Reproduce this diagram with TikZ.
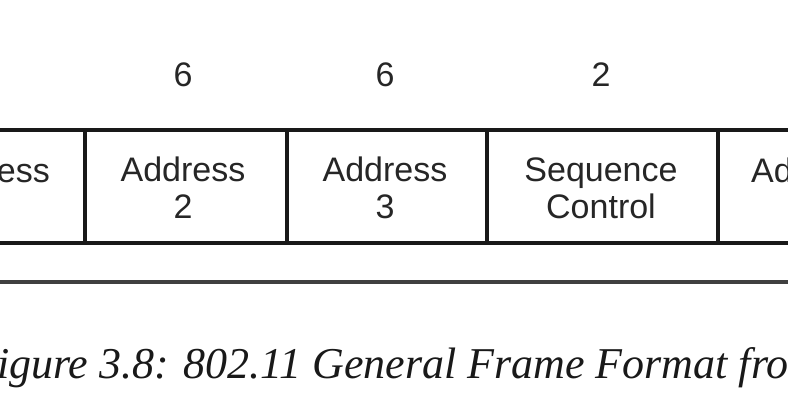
\documentclass[tikz,border=0pt]{standalone}
\usepackage{fontspec}
\setmainfont{Liberation Sans}
\newfontfamily\capfont{Liberation Serif}
\begin{document}
\begin{tikzpicture}[x=1pt,y=-1pt,
  lbl/.style={font=\fontsize{34}{37}\selectfont,align=center,text=black!85,inner sep=0pt},
  frame/.style={line width=3.5pt,black!90}]
\useasboundingbox (0,0) rectangle (788,414);
\clip (0,0) rectangle (788,414);
\fill[white] (0,0) rectangle (788,414);
\node[lbl] (n1) at (183,75) {6};
\node[lbl] (n2) at (385,75) {6};
\node[lbl] (n3) at (601,75) {2};
\draw[frame] (-10,130) -- (800,130) (-10,243) -- (800,243);
\foreach \x in {85,287,487,718} \draw[frame] (\x,130) -- (\x,243);
\node[lbl,anchor=east] (a1) at (50,170) {Address};
\node[lbl] (a2) at (183,188) {Address\\2};
\node[lbl] (a3) at (385,188) {Address\\3};
\node[lbl] (sc) at (601,188) {Sequence\\Control};
\node[lbl,anchor=west] (a4) at (751,170) {Address};
\draw[line width=3.5pt,black!75] (-10,282) -- (800,282);
\node[anchor=west,inner sep=0pt,font=\capfont\itshape\fontsize{44}{48}\selectfont,text=black!90] (cap) at (-30,368) {Figure 3.8: 802.11 General Frame Format from};
\end{tikzpicture}
\end{document}
